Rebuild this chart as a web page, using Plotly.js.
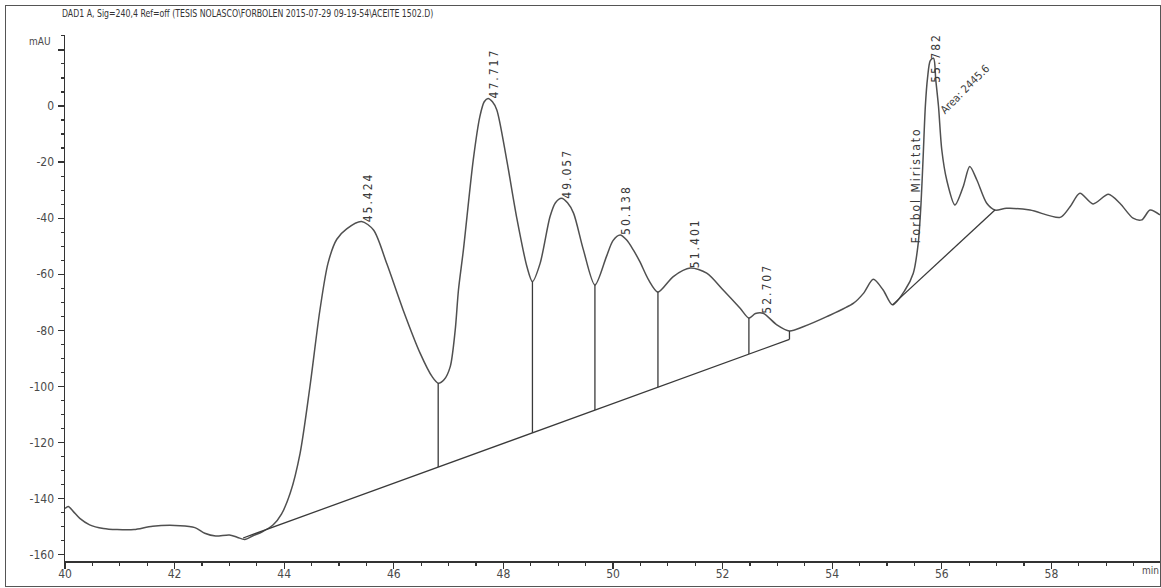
<!DOCTYPE html>
<html>
<head>
<meta charset="utf-8">
<script src="https://cdn.plot.ly/plotly-3.0.1.min.js"></script>
<style>
  html, body { margin: 0; padding: 0; background: #fff; }
  #wrap { position: relative; width: 1161px; height: 588px; }
  #chart { position: absolute; left: 0; top: 0; width: 1161px; height: 588px; }
  #frame { position: absolute; left: 5px; top: 5px; width: 1154px; height: 580px;
           border: 1px solid #555; pointer-events: none; }
  text.gtitle { transform-box: fill-box; transform-origin: 0 50%; transform: scaleX(0.79); }
  g.annotation[data-index="0"] text, g.annotation[data-index="1"] text,
  g.annotation[data-index="2"] text, g.annotation[data-index="3"] text,
  g.annotation[data-index="4"] text, g.annotation[data-index="5"] text,
  g.annotation[data-index="6"] text, g.annotation[data-index="7"] text { letter-spacing: 2px; }
</style>
</head>
<body>
<div id="wrap">
  <div id="chart"></div>
  <div id="frame"></div>
</div>
<script>
// DAD1 A signal, 240 nm: retention time (min) and absorbance (mAU)
const time = [
  40.00, 40.06, 40.15, 40.27, 40.45, 40.70, 40.95, 41.26, 41.60, 42.10,
  42.37, 42.55, 42.75, 43.00, 43.15, 43.28, 43.43, 43.60, 43.80, 43.95,
  44.11, 44.29, 44.47, 44.65, 44.80, 44.96, 45.14, 45.41, 45.63, 45.87,
  46.17, 46.48, 46.70, 46.81, 46.92, 47.03, 47.12, 47.18, 47.27, 47.45,
  47.57, 47.65, 47.72, 47.80, 47.88, 48.06, 48.24, 48.43, 48.53, 48.67,
  48.85, 48.95, 49.06, 49.17, 49.28, 49.46, 49.67, 49.88, 50.00, 50.13,
  50.25, 50.37, 50.49, 50.65, 50.82, 51.10, 51.41, 51.71, 52.01, 52.32,
  52.48, 52.60, 52.74, 52.99, 53.22, 53.47, 53.90, 54.39, 54.57, 54.75,
  54.93, 55.10, 55.33, 55.48, 55.57, 55.62, 55.66, 55.70, 55.74, 55.79,
  55.85, 55.89, 55.94, 56.00, 56.09, 56.24, 56.39, 56.51, 56.64, 56.82,
  56.97, 57.18, 57.61, 58.16, 58.34, 58.52, 58.76, 59.04, 59.25, 59.49,
  59.65, 59.80, 59.98
];
const signal = [
  -143.5, -142.8, -144.5, -147.0, -149.3, -150.6, -151.0, -151.0, -149.8, -149.6,
  -150.3, -152.3, -153.3, -152.9, -153.8, -154.5, -153.2, -151.8, -149.3, -145.5,
  -138.0, -123.8, -100.0, -73.0, -56.0, -47.5, -43.8, -41.2, -44.2, -56.1,
  -72.7, -88.1, -96.5, -98.8, -97.5, -92.9, -80.0, -65.6, -51.3, -19.2,
  -3.8, 1.5, 2.7, 1.5, -1.4, -19.2, -39.5, -57.3, -62.6, -56.1,
  -39.5, -34.5, -32.9, -34.5, -38.2, -51.3, -63.8, -53.7, -48.0, -46.0,
  -47.8, -51.3, -55.5, -62.0, -66.3, -60.8, -57.8, -59.6, -65.6, -72.1,
  -75.6, -74.0, -73.9, -78.0, -80.2, -78.7, -75.1, -70.3, -66.8, -61.8,
  -65.6, -70.9, -65.6, -59.6, -48.9, -35.0, -18.0, 0.0, 10.0, 16.2,
  17.0, 9.3, -0.2, -15.7, -26.4, -35.3, -28.8, -21.6, -26.4, -34.7,
  -37.1, -36.5, -37.1, -39.7, -35.9, -31.1, -34.9, -31.5, -34.7, -40.0,
  -40.6, -37.1, -38.8
];

// Integration baselines (start/end time, start/end level)
const baseline1Time = [43.25, 53.22];
const baseline1Level = [-154.0, -83.2];
const baseline2Time = [55.10, 56.97];
const baseline2Level = [-70.9, -37.1];

// Drop lines separating the peaks on the first baseline
const dropTimes = [46.81, 48.53, 49.67, 50.82, 52.48, 53.22];

// Labelled retention times
const peakTimes = [45.424, 47.717, 49.057, 50.138, 51.401, 52.707, 55.782];
const peakName = 'Forbol Miristato';
const peakArea = 2445.6;

const xTicks = [40, 42, 44, 46, 48, 50, 52, 54, 56, 58];
const yTicks = [-160, -140, -120, -100, -80, -60, -40, -20, 0, 20];

const xRange = [40, 60];
const yRange = [-162.2, 25.3];

function interp(xs, ys, x) {
  if (x <= xs[0]) return ys[0];
  for (let i = 1; i < xs.length; i++) {
    if (x <= xs[i]) {
      const f = (x - xs[i - 1]) / (xs[i] - xs[i - 1]);
      return ys[i - 1] + f * (ys[i] - ys[i - 1]);
    }
  }
  return ys[ys.length - 1];
}

// Drop lines: from the signal down to the first baseline
const dropX = [], dropY = [];
dropTimes.forEach(t => {
  dropX.push(t, t, null);
  dropY.push(interp(time, signal, t), interp(baseline1Time, baseline1Level, t), null);
});

const axisFont = { family: 'Liberation Sans Narrow, DejaVu Sans Condensed, Arial Narrow, sans-serif', size: 12, color: '#4a4a4a' };
const labelFont = { family: 'Liberation Sans Narrow, DejaVu Sans Condensed, Arial Narrow, sans-serif', size: 12, color: '#3a3a3a' };

const traces = [
  { x: time, y: signal, mode: 'lines', line: { color: '#505050', width: 1.5, shape: 'spline', smoothing: 0.8 }, hoverinfo: 'skip' },
  { x: baseline1Time, y: baseline1Level, mode: 'lines', line: { color: '#3a3a3a', width: 1.3 }, hoverinfo: 'skip' },
  { x: baseline2Time, y: baseline2Level, mode: 'lines', line: { color: '#3a3a3a', width: 1.3 }, hoverinfo: 'skip' },
  { x: dropX, y: dropY, mode: 'lines', line: { color: '#3a3a3a', width: 1.3 }, hoverinfo: 'skip' }
];

// Retention-time labels above each peak, kept inside the plot area
const pxPerUnit = 526 / (yRange[1] - yRange[0]);
const labelHeight = 48;
const annotations = peakTimes.map(t => {
  const v = interp(time, signal, t);
  const topPx = (yRange[1] - v) * pxPerUnit - 4 - labelHeight;
  const a = {
    x: t, y: v, xref: 'x', yref: 'y', text: t.toFixed(3), showarrow: false,
    textangle: -90, xanchor: 'center', yanchor: 'bottom', xshift: 6, yshift: 4,
    font: labelFont
  };
  if (topPx < 2) {
    a.y = yRange[1]; a.yanchor = 'top'; a.yshift = -2;
  }
  return a;
});

const mainPeak = peakTimes[peakTimes.length - 1];
const mainLevel = interp(time, signal, mainPeak);
annotations.push({
  x: mainPeak, y: mainLevel, xref: 'x', yref: 'y', text: peakName, showarrow: false,
  textangle: -90, xanchor: 'center', yanchor: 'middle', xshift: -14, yshift: -122,
  font: labelFont
});
annotations.push({
  x: mainPeak, y: mainLevel, xref: 'x', yref: 'y', text: 'Area: ' + peakArea.toFixed(1), showarrow: false,
  textangle: -45, xanchor: 'center', yanchor: 'middle', xshift: 35, yshift: -26,
  font: { family: labelFont.family, size: 11, color: '#3a3a3a' }
});
annotations.push({
  x: 0, y: 20, xref: 'paper', yref: 'y', text: 'mAU', showarrow: false,
  xanchor: 'right', yanchor: 'middle', xshift: -12, yshift: 8, font: { family: axisFont.family, size: 10, color: '#4a4a4a' }
});
annotations.push({
  x: 1, y: 0, xref: 'paper', yref: 'paper', text: 'min', showarrow: false,
  xanchor: 'right', yanchor: 'top', xshift: 0, yshift: -2, font: { family: axisFont.family, size: 10, color: '#4a4a4a' }
});

const layout = {
  width: 1161, height: 588,
  margin: { l: 65, r: 0, t: 35, b: 27 },
  paper_bgcolor: '#ffffff', plot_bgcolor: '#ffffff',
  showlegend: false,
  title: {
    text: 'DAD1 A, Sig=240,4 Ref=off (TESIS NOLASCO\\FORBOLEN 2015-07-29 09-19-54\\ACEITE 1502.D)',
    xref: 'container', x: 62 / 1161, xanchor: 'left',
    yref: 'container', y: 1 - 13 / 588, yanchor: 'middle',
    font: { family: axisFont.family, size: 11, color: '#333' }
  },
  xaxis: {
    range: xRange, tickvals: xTicks, ticktext: xTicks.map(String),
    ticks: 'outside', ticklen: 6, tickwidth: 1.3, tickcolor: '#333',
    showline: true, linecolor: '#333', linewidth: 1.5, ticklabelstandoff: -5,
    showgrid: false, zeroline: false, tickfont: axisFont,
    minor: { dtick: 0.5, ticks: 'outside', ticklen: 3, tickwidth: 1.2, tickcolor: '#333', showgrid: false }
  },
  yaxis: {
    range: yRange, tickvals: yTicks, ticktext: yTicks.map(v => v === 20 ? '' : String(v)),
    ticks: 'outside', ticklen: 6, tickwidth: 1.3, tickcolor: '#333',
    showline: true, linecolor: '#333', linewidth: 1.5, ticklabelstandoff: 1,
    showgrid: false, zeroline: false, tickfont: axisFont,
    minor: { dtick: 5, ticks: 'outside', ticklen: 3, tickwidth: 1.2, tickcolor: '#333', showgrid: false }
  },
  annotations: annotations
};

Plotly.newPlot('chart', traces, layout, { displayModeBar: false, staticPlot: true });
</script>
</body>
</html>
